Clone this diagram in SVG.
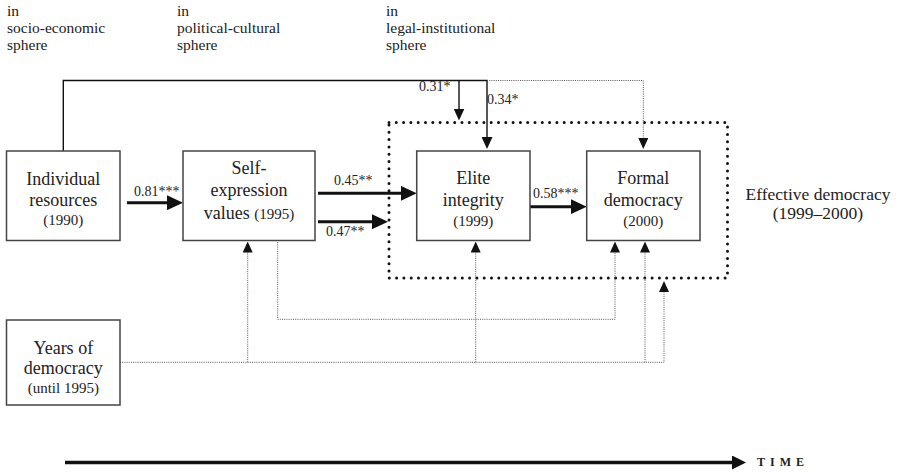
<svg xmlns="http://www.w3.org/2000/svg" width="901" height="474" viewBox="0 0 901 474" font-family="'Liberation Serif', 'Times New Roman', serif">
<style>
text{font-family:'Liberation Serif','Times New Roman',serif;fill:#222}
.box{fill:#fff;stroke:#444;stroke-width:1.5}
.lbl{font-size:18px;text-anchor:middle}
.yr{font-size:15px;text-anchor:middle}
.coef{font-size:14px}
.sph{font-size:15.5px}
.eff{font-size:17.5px;text-anchor:middle}
.thick{stroke:#111;stroke-width:3;fill:none}
.thin{stroke:#111;stroke-width:1.4;fill:none}
.dot{stroke:#555;stroke-width:1;stroke-dasharray:1 1.2;fill:none}
.bigdot{stroke:#111;stroke-width:3;stroke-dasharray:0 7.3;stroke-linecap:round;fill:none}
</style>
<defs>
<marker id="ah-thick" markerUnits="userSpaceOnUse" markerWidth="16" markerHeight="15" refX="10" refY="7.5" orient="auto"><path d="M0,0 L16,7.5 L0,15 z" fill="#111"/></marker>
<marker id="ah-thin" markerUnits="userSpaceOnUse" markerWidth="12" markerHeight="11" refX="8" refY="5.5" orient="auto"><path d="M0,0 L12,5.5 L0,11 z" fill="#111"/></marker>
<marker id="ah-dot" markerUnits="userSpaceOnUse" markerWidth="11" markerHeight="10" refX="7" refY="5" orient="auto"><path d="M0,0 L11,5 L0,10 z" fill="#111"/></marker>
<marker id="ah-time" markerUnits="userSpaceOnUse" markerWidth="14" markerHeight="14" refX="8" refY="7" orient="auto"><path d="M0,0 L14,7 L0,14 z" fill="#111"/></marker>
</defs>

<g id="sphere-labels">
<text class="sph" x="7" y="16">in</text>
<text class="sph" x="7" y="33">socio-economic</text>
<text class="sph" x="7" y="50">sphere</text>
<text class="sph" x="177" y="16">in</text>
<text class="sph" x="177" y="33">political-cultural</text>
<text class="sph" x="177" y="50">sphere</text>
<text class="sph" x="386" y="16">in</text>
<text class="sph" x="386" y="33">legal-institutional</text>
<text class="sph" x="386" y="50">sphere</text>
</g>

<g id="effective-democracy">
<rect class="bigdot" x="389" y="122.5" width="338.5" height="155.5"/>
<text class="eff" x="818" y="200">Effective democracy</text>
<text class="eff" x="818" y="219">(1999–2000)</text>
</g>

<g id="connectors">
<polyline class="thin" points="63.3,151 63.3,80.5 487,80.5 487,145" marker-end="url(#ah-thin)"/>
<line class="thin" x1="459" y1="80.5" x2="459" y2="116.5" marker-end="url(#ah-thin)"/>
<polyline class="dot" points="487,80.5 643.3,80.5 643.3,145" marker-end="url(#ah-dot)"/>
<line class="thick" x1="127" y1="202.7" x2="177" y2="202.7" marker-end="url(#ah-thick)"/>
<line class="thick" x1="318" y1="193.3" x2="410.7" y2="193.3" marker-end="url(#ah-thick)"/>
<line class="thick" x1="318" y1="221.7" x2="382" y2="221.7" marker-end="url(#ah-thick)"/>
<line class="thick" x1="530" y1="206.7" x2="580.7" y2="206.7" marker-end="url(#ah-thick)"/>
<polyline class="dot" points="120,362.3 664,362.3 664,285" marker-end="url(#ah-dot)"/>
<line class="dot" x1="247.7" y1="362.3" x2="247.7" y2="245.5" marker-end="url(#ah-dot)"/>
<line class="dot" x1="475.7" y1="362.3" x2="475.7" y2="245.5" marker-end="url(#ah-dot)"/>
<line class="dot" x1="645" y1="362.3" x2="645" y2="245.5" marker-end="url(#ah-dot)"/>
<polyline class="dot" points="277.7,240 277.7,319.3 615,319.3 615,245.5" marker-end="url(#ah-dot)"/>
<text class="coef" x="134" y="196">0.81***</text>
<text class="coef" x="334" y="185">0.45**</text>
<text class="coef" x="326" y="236">0.47**</text>
<text class="coef" x="533" y="198">0.58***</text>
<text class="coef" x="419" y="91">0.31*</text>
<text class="coef" x="487" y="104">0.34*</text>
</g>

<g id="individual-resources">
<rect class="box" x="6.5" y="151" width="113.5" height="89.5"/>
<text class="lbl" x="63.3" y="185">Individual</text>
<text class="lbl" x="63.3" y="206">resources</text>
<text class="yr" x="63.3" y="225">(1990)</text>
</g>

<g id="self-expression">
<rect class="box" x="183" y="151" width="132" height="89.5"/>
<text class="lbl" x="249" y="174">Self-</text>
<text class="lbl" x="249" y="196">expression</text>
<text class="lbl" x="249" y="219">values <tspan style="font-size:15px">(1995)</tspan></text>
</g>

<g id="elite-integrity">
<rect class="box" x="416.7" y="151" width="113.3" height="89.5"/>
<text class="lbl" x="473.3" y="184">Elite</text>
<text class="lbl" x="473.3" y="206">integrity</text>
<text class="yr" x="473.3" y="226">(1999)</text>
</g>

<g id="formal-democracy">
<rect class="box" x="586.7" y="151" width="113.3" height="89.5"/>
<text class="lbl" x="643.3" y="184">Formal</text>
<text class="lbl" x="643.3" y="206">democracy</text>
<text class="yr" x="643.3" y="226">(2000)</text>
</g>

<g id="years-of-democracy">
<rect class="box" x="6.5" y="320" width="113.5" height="85"/>
<text class="lbl" x="63.3" y="354">Years of</text>
<text class="lbl" x="63.3" y="374">democracy</text>
<text class="yr" x="63.3" y="393">(until 1995)</text>
</g>

<g id="time-axis">
<line x1="65" y1="462.5" x2="740" y2="462.5" stroke="#111" stroke-width="3.5" marker-end="url(#ah-time)"/>
<text x="757" y="466" style="font-size:12px;font-weight:bold;letter-spacing:5px">TIME</text>
</g>
</svg>
